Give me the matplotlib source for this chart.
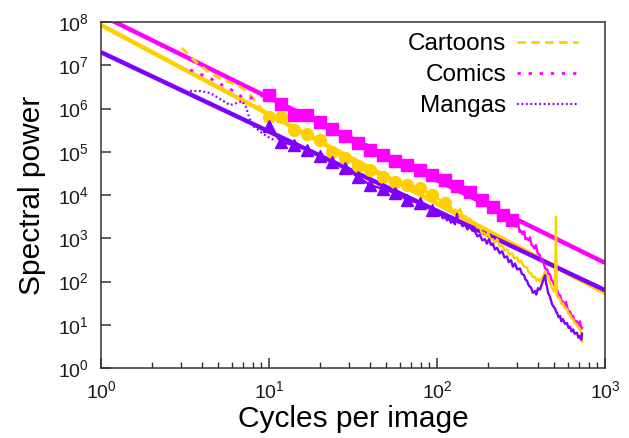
import matplotlib
matplotlib.use("Agg")
import matplotlib.pyplot as plt
from matplotlib.lines import Line2D
from matplotlib.ticker import LogLocator, LogFormatterMathtext, NullFormatter

plt.rcParams['font.family'] = ['Liberation Sans', 'DejaVu Sans']
plt.rcParams['mathtext.fontset'] = 'custom'
plt.rcParams['mathtext.rm'] = 'Liberation Sans'
plt.rcParams['mathtext.it'] = 'Liberation Sans:italic'
plt.rcParams['mathtext.bf'] = 'Liberation Sans:bold'

# ---------------- data ----------------
series_names = ["Cartoons", "Comics", "Mangas"]

# low-frequency part (before markers)
cartoons_low_x = [3.03, 3.73, 4.46, 5.32, 6.45, 7.5, 8.6, 10]
cartoons_low_y = [2.5e7, 1.13e7, 6.6e6, 4.56e6, 3.5e6, 2.4e6, 1.2e6, 6.4e5]
comics_low_x = [3.39, 3.78, 4.27, 4.64, 5.25, 5.70, 6.45, 7.0, 7.9, 8.6, 10]
comics_low_y = [7.8e6, 6.6e6, 5.35e6, 4.6e6, 3.5e6, 3.0e6, 2.28e6, 1.75e6, 1.75e6, 1.9e6, 2.05e6]
mangas_low_x = [3.39, 3.88, 4.46, 5.11, 5.86, 6.45, 6.9, 7.3, 7.6, 7.9, 9.1, 10.1, 11.0]
mangas_low_y = [2.54e6, 2.54e6, 2.28e6, 1.66e6, 1.2e6, 1.34e6, 1.49e6, 1.08e6, 6.4e5,
                4.15e5, 2.7e5, 2.08e5, 1.77e5]

# marker part
marker_x = [10, 11.8, 14.1, 16.8, 20.1, 23.7, 28.3, 33.9, 39.9, 47.7, 56.2,
            66.3, 79.2, 93.4, 111.6, 131.5, 157, 185, 215, 247, 279]
comics_mk_y = [2.05e6, 1.27e6, 7.1e5, 7.1e5, 4.9e5, 3.36e5, 2.31e5, 1.59e5, 1.10e5,
               8.4e4, 6.1e4, 4.9e4, 3.8e4, 2.9e4, 2.2e4, 1.6e4, 1.17e4, 7.7e3,
               5.3e3, 3.45e3, 2.6e3]
cartoons_mk_y = [6.4e5, 6.4e5, 3.2e5, 2.6e5, 1.87e5, 9.9e4, 7.2e4, 4.7e4, 3.8e4,
                 2.6e4, 2.0e4, 1.70e4, 1.45e4, 1.0e4, 6.5e3]
mangas_mk_y = [3.9e5, 1.68e5, 1.43e5, 1.10e5, 8.0e4, 5.8e4, 4.2e4, 2.6e4, 1.70e4,
               1.38e4, 1.11e4, 7.7e3, 6.5e3, 4.5e3]

# high-frequency part (noisy)
comics_hi_x = [279, 285, 291, 297, 303, 310, 316, 323, 330, 336, 343, 350, 358, 365,
               373, 380, 388, 398, 410, 418, 428, 440, 452, 460, 471, 480, 490, 504,
               518, 528, 540, 550, 562, 574, 586, 600, 619, 632, 645, 660, 681, 695,
               710, 722, 730]
comics_hi_y = [2.6e3, 2.0e3, 2.1e3, 1.85e3, 2.3e3, 1.4e3, 1.5e3, 1.25e3, 1.45e3, 950,
               1000, 900, 1050, 700, 650, 580, 700, 450, 400, 300, 300, 200, 190, 150,
               145, 110, 100, 75, 66, 50, 48, 36, 34, 28, 34, 22, 20, 16, 16, 12, 12,
               9.5, 12, 8, 8.5]
cartoons_hi_x = [111.6, 115, 119.5, 124, 128, 133, 137, 142, 147, 152, 157, 162, 168,
                 174, 180, 185, 190, 196, 201, 208, 215, 221, 228, 236, 244, 252, 261,
                 270, 279, 289, 299, 308, 316, 330, 343, 352, 363, 372, 383, 390, 399,
                 410, 422, 432, 440, 448, 458, 465, 471, 480, 490, 497, 504, 511, 516,
                 524, 540, 550, 562, 578, 594, 606, 619, 632, 645, 660, 681, 695, 710,
                 722, 730]
cartoons_hi_y = [6.5e3, 5.2e3, 5.6e3, 4.3e3, 4.6e3, 4.0e3, 4.75e3, 3.3e3, 3.3e3, 2.7e3,
                 2.9e3, 2.3e3, 2.2e3, 1.75e3, 1.8e3, 1.3e3, 1.35e3, 1.1e3, 1.35e3, 950,
                 950, 800, 950, 650, 700, 520, 550, 420, 450, 340, 360, 280, 300, 220,
                 210, 160, 160, 125, 130, 105, 115, 100, 120, 140, 170, 130, 130, 100,
                 95, 75, 68, 58, 60, 3.1e3, 45, 45, 38, 30, 31, 24, 23, 18, 17, 14,
                 13.5, 11, 10, 8.5, 8, 6.5, 4.0]
mangas_hi_x = [93.4, 97, 100, 103, 105.6, 108, 111.6, 115, 118, 121, 124.5, 128,
               131.5, 134, 137, 142, 147, 152, 157, 162, 168, 174, 180, 186, 193, 198,
               204, 210, 215, 221, 228, 236, 244, 252, 261, 268, 276, 283, 291, 300,
               312, 320, 330, 336, 343, 352, 363, 372, 383, 390, 399, 410, 422, 430,
               440, 446, 452, 458, 470, 484, 494, 504, 511, 518, 528, 540, 550, 562,
               578, 594, 606, 619, 632, 645, 660, 681, 695, 710, 722, 730]
mangas_hi_y = [4.5e3, 3.6e3, 3.9e3, 3.3e3, 3.84e3, 2.9e3, 3.1e3, 2.6e3, 2.94e3, 2.3e3,
               2.5e3, 2.1e3, 3.64e3, 2.3e3, 2.5e3, 1.9e3, 2.1e3, 1.6e3, 1.9e3, 1.5e3,
               1.45e3, 1.1e3, 1.2e3, 900, 950, 750, 950, 700, 750, 550, 600, 450, 500,
               360, 380, 280, 310, 220, 260, 190, 200, 150, 140, 110, 105, 80, 72, 55,
               60, 50, 70, 65, 90, 110, 140, 90, 75, 55, 45, 30, 26, 24, 20, 19, 15,
               16, 12, 13.5, 10.5, 11, 8.5, 9, 7, 7.8, 6.2, 6.5, 5, 5.5, 4.5, 6.2]

# power-law fits (end points)
fit_x = [1, 1000]
comics_fit_y = [1.44e8, 270]
cartoons_fit_y = [8.5e7, 54]
mangas_fit_y = [2.0e7, 63]

# ---------------- style ----------------
c_yel = '#ffd000'
c_mag = '#ff00ff'
c_pur = '#8000ff'

fig = plt.figure(figsize=(6.29, 4.38), dpi=100)
ax = fig.add_axes([101/629, 70/438, 504/629, 346/438])
ax.set_xscale('log')
ax.set_yscale('log')
ax.set_xlim(1, 1000)
ax.set_ylim(1, 1e8)

fit_lw = 3.2
dlw = 1.7

# fits
ax.plot(fit_x, cartoons_fit_y, color=c_yel, lw=fit_lw, zorder=2, solid_capstyle='butt')
ax.plot(fit_x, comics_fit_y, color=c_mag, lw=fit_lw, zorder=2, solid_capstyle='butt')
ax.plot(fit_x, mangas_fit_y, color=c_pur, lw=fit_lw, zorder=2, solid_capstyle='butt')

# low parts
ax.plot(cartoons_low_x, cartoons_low_y, color=c_yel, lw=2, ls=(0, (3, 2)), zorder=3)
ax.plot(comics_low_x, comics_low_y, color=c_mag, lw=2, ls=(0, (1.2, 2.8)), zorder=3)
ax.plot(mangas_low_x, mangas_low_y, color=c_pur, lw=1.6, ls=(0, (0.8, 1.2)), zorder=3)

# marker parts
n_c = len(cartoons_mk_y)
n_m = len(mangas_mk_y)
ax.plot(marker_x, comics_mk_y, color=c_mag, lw=dlw, marker='s', ms=8.5,
        mec=c_mag, mfc=c_mag, zorder=4)
ax.plot(marker_x[:n_c], cartoons_mk_y, color=c_yel, lw=dlw, marker='o', ms=8.5,
        mec=c_yel, mfc=c_yel, zorder=4)
ax.plot(marker_x[:n_m], mangas_mk_y, color=c_pur, lw=dlw, marker='^', ms=8,
        mec=c_pur, mfc=c_pur, zorder=4)

# noisy high-frequency parts
ax.plot(comics_hi_x, comics_hi_y, color=c_mag, lw=dlw, zorder=3)
ax.plot(cartoons_hi_x, cartoons_hi_y, color=c_yel, lw=dlw, zorder=3)
ax.plot(mangas_hi_x, mangas_hi_y, color=c_pur, lw=dlw, zorder=3)

# axes styling
for s in ax.spines.values():
    s.set_linewidth(1.1)
    s.set_color('#333333')
ax.xaxis.set_major_locator(LogLocator(base=10, numticks=10))
ax.xaxis.set_minor_locator(LogLocator(base=10, subs=range(2, 10), numticks=10))
ax.xaxis.set_minor_formatter(NullFormatter())
ax.yaxis.set_major_locator(LogLocator(base=10, numticks=20))
ax.yaxis.set_minor_locator(LogLocator(base=10, subs=[], numticks=20))
ax.xaxis.set_major_formatter(LogFormatterMathtext())
ax.yaxis.set_major_formatter(LogFormatterMathtext())
ax.tick_params(which='both', direction='in', top=False, right=False,
               labelsize=14, color='#333333', labelcolor='#1a1a1a')
ax.tick_params(which='major', length=7.5, width=1.1, pad=9)
ax.tick_params(which='minor', length=4.5, width=1.0)

ax.set_xlabel('Cycles per image', fontsize=21.5, labelpad=2)
ax.set_ylabel('Spectral power', fontsize=21.5, labelpad=8)

handles = [Line2D([], [], color=c_yel, lw=2, ls=(0, (3, 2))),
           Line2D([], [], color=c_mag, lw=2, ls=(0, (1.2, 2.8))),
           Line2D([], [], color=c_pur, lw=1.6, ls=(0, (0.8, 1.2)))]
leg = ax.legend(handles, series_names, loc='upper right', markerfirst=False,
                frameon=False, fontsize=17.5, handlelength=2.5, handletextpad=0.45,
                labelspacing=0.37, borderpad=0, borderaxespad=0,
                bbox_to_anchor=((578 - 101) / 504, (368 - 33) / 346))

fig.savefig('out.png', dpi=100)
